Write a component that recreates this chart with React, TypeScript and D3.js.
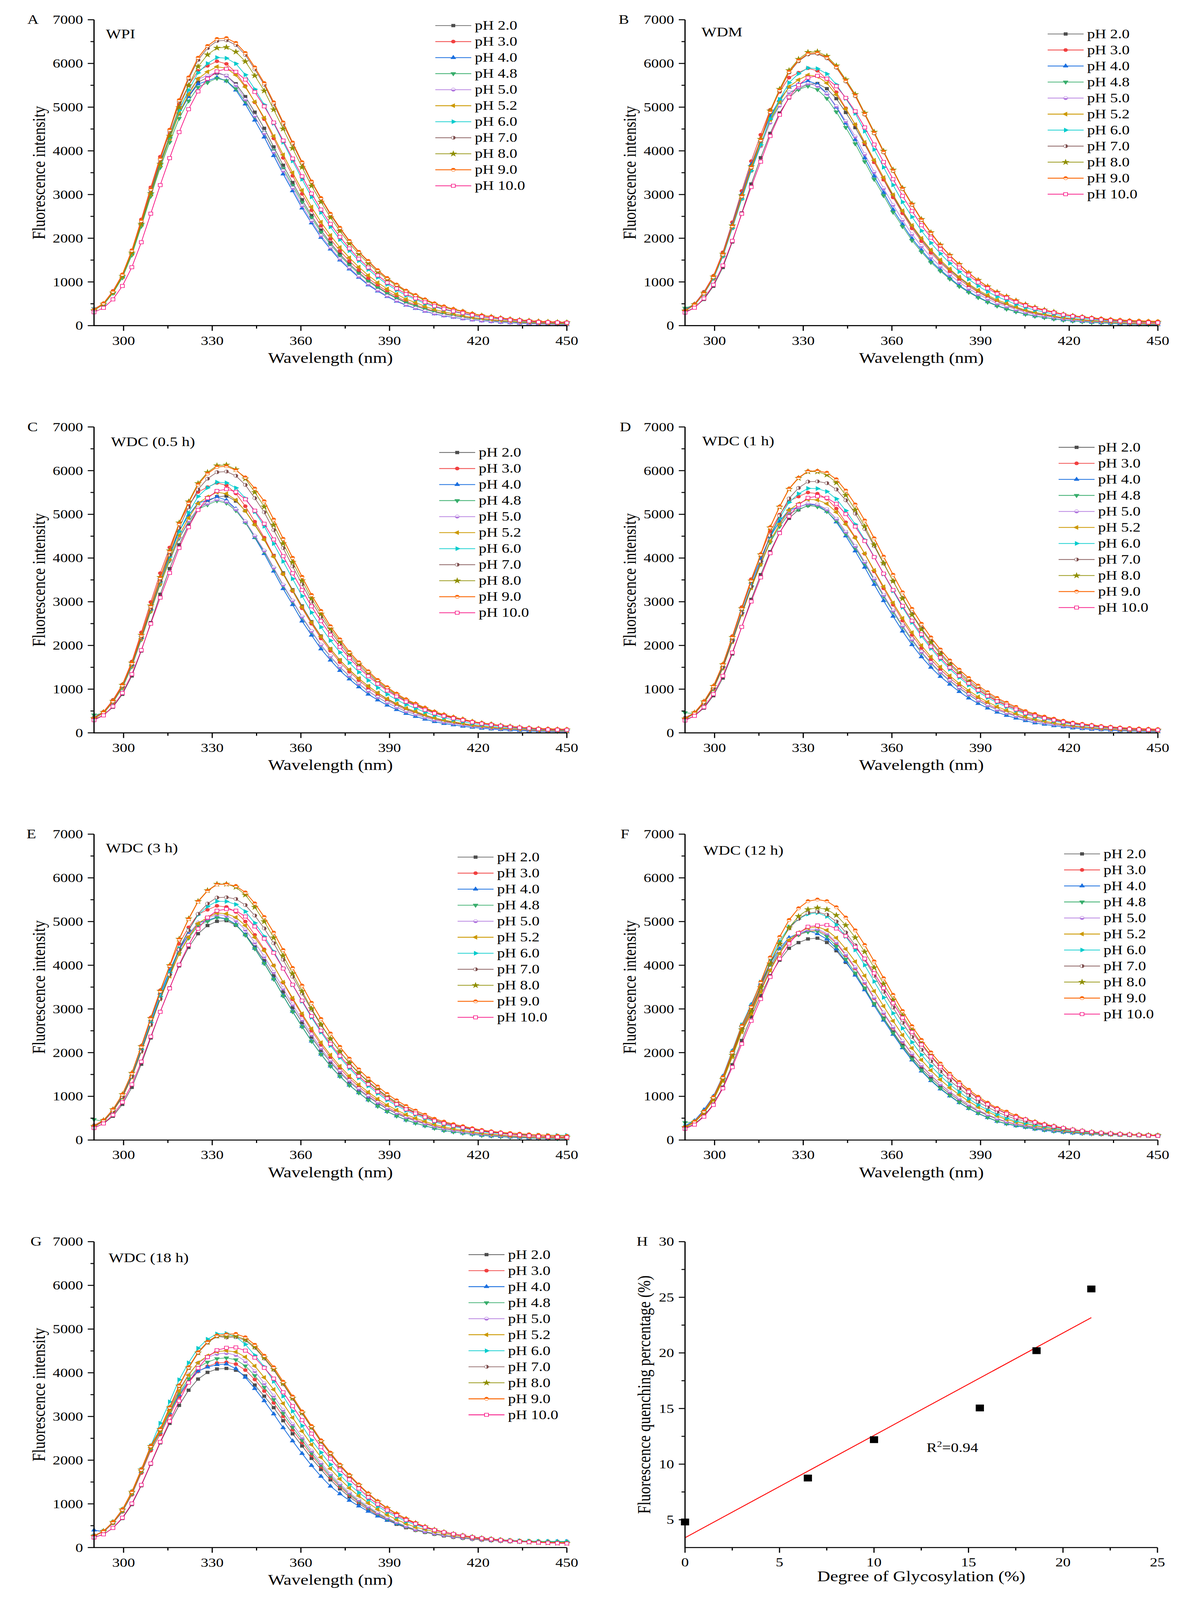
import React from "react";
import * as d3 from "d3";

// excitation scan, one point every 3.2 nm
const wavelengths = [
  290, 293.2, 296.4, 299.6, 302.8, 306, 309.2, 312.4, 315.6, 318.8, 322, 325.2, 328.4, 331.6, 334.8, 338, 341.2,
  344.4, 347.6, 350.8, 354, 357.2, 360.4, 363.6, 366.8, 370, 373.2, 376.4, 379.6, 382.8, 386, 389.2, 392.4, 395.6,
  398.8, 402, 405.2, 408.4, 411.6, 414.8, 418, 421.2, 424.4, 427.6, 430.8, 434, 437.2, 440.4, 443.6, 446.8, 450,
];

const phLabels = ["pH 2.0", "pH 3.0", "pH 4.0", "pH 4.8", "pH 5.0", "pH 5.2", "pH 6.0", "pH 7.0", "pH 8.0", "pH 9.0", "pH 10.0"];

// rows follow phLabels
const wpi = [
  [365, 485, 755, 1115, 1645, 2325, 3025, 3695, 4285, 4845, 5250, 5570, 5680, 5780, 5720, 5535, 5240, 4885, 4515, 4090, 3670, 3275, 2880, 2520, 2185, 1895, 1635, 1415, 1220, 1035, 885, 750, 635, 530, 457, 381, 318, 266, 231, 197, 162, 139, 116, 98, 87, 75, 64, 52, 46, 40, 35],
  [380, 510, 795, 1170, 1725, 2430, 3165, 3865, 4485, 5070, 5495, 5830, 5945, 6050, 5990, 5795, 5485, 5110, 4725, 4285, 3840, 3430, 3015, 2640, 2285, 1985, 1710, 1480, 1275, 1085, 925, 785, 665, 555, 478, 400, 333, 278, 242, 206, 169, 145, 121, 103, 91, 79, 67, 54, 48, 42, 36],
  [370, 490, 765, 1120, 1665, 2350, 3060, 3740, 4315, 4860, 5240, 5530, 5600, 5680, 5600, 5390, 5070, 4700, 4315, 3890, 3470, 3085, 2690, 2350, 2020, 1750, 1500, 1295, 1105, 930, 790, 665, 557, 465, 393, 328, 268, 224, 191, 158, 131, 109, 93, 76, 66, 55, 44, 38, 33, 27, 22],
  [390, 475, 742, 1095, 1614, 2273, 2961, 3616, 4196, 4743, 5141, 5454, 5562, 5660, 5604, 5422, 5131, 4781, 4420, 4009, 3592, 3209, 2821, 2470, 2138, 1857, 1600, 1385, 1193, 1015, 865, 734, 622, 519, 447, 374, 312, 260, 226, 193, 158, 136, 113, 96, 85, 74, 63, 51, 45, 39, 34],
  [378, 500, 781, 1144, 1700, 2399, 3124, 3819, 4406, 4962, 5350, 5646, 5718, 5800, 5718, 5503, 5176, 4799, 4406, 3972, 3543, 3150, 2746, 2399, 2062, 1787, 1532, 1322, 1128, 950, 807, 679, 569, 475, 401, 335, 274, 229, 195, 161, 134, 111, 95, 78, 67, 56, 45, 39, 34, 28, 22],
  [355, 485, 755, 1115, 1645, 2315, 3005, 3675, 4275, 4865, 5295, 5650, 5810, 5925, 5890, 5735, 5460, 5120, 4755, 4335, 3910, 3500, 3095, 2715, 2370, 2065, 1790, 1555, 1340, 1150, 985, 840, 720, 605, 528, 440, 368, 314, 273, 231, 190, 166, 142, 119, 107, 89, 77, 65, 59, 53, 47],
  [350, 490, 755, 1125, 1650, 2320, 3015, 3690, 4305, 4925, 5390, 5785, 6000, 6135, 6120, 5995, 5740, 5410, 5055, 4630, 4195, 3770, 3350, 2945, 2590, 2260, 1970, 1715, 1485, 1285, 1105, 945, 810, 690, 600, 505, 430, 370, 320, 275, 228, 196, 172, 147, 129, 111, 92, 80, 74, 68, 61],
  [355, 505, 775, 1165, 1705, 2380, 3100, 3790, 4445, 5120, 5640, 6080, 6350, 6515, 6530, 6420, 6195, 5865, 5510, 5070, 4615, 4160, 3710, 3280, 2900, 2535, 2220, 1925, 1680, 1465, 1260, 1085, 930, 795, 695, 595, 505, 435, 375, 325, 270, 233, 203, 173, 148, 128, 113, 98, 88, 80, 74],
  [345, 495, 755, 1135, 1665, 2325, 3025, 3700, 4340, 4995, 5500, 5930, 6200, 6355, 6370, 6265, 6045, 5720, 5375, 4945, 4505, 4060, 3625, 3200, 2830, 2475, 2165, 1880, 1640, 1425, 1230, 1060, 910, 775, 675, 580, 490, 420, 365, 318, 265, 228, 200, 170, 147, 127, 110, 96, 85, 78, 72],
  [360, 510, 780, 1170, 1720, 2400, 3120, 3820, 4480, 5160, 5680, 6130, 6400, 6560, 6580, 6470, 6240, 5910, 5550, 5110, 4650, 4190, 3740, 3300, 2920, 2560, 2240, 1940, 1690, 1480, 1270, 1090, 940, 800, 700, 600, 510, 440, 380, 330, 275, 235, 205, 175, 150, 130, 115, 100, 90, 82, 76],
  [306, 406, 601, 907, 1337, 1908, 2562, 3216, 3834, 4429, 4953, 5360, 5649, 5819, 5878, 5808, 5631, 5348, 5018, 4647, 4235, 3823, 3416, 3022, 2656, 2327, 2032, 1767, 1531, 1331, 1149, 984, 848, 724, 624, 536, 448, 383, 330, 289, 241, 206, 177, 159, 130, 118, 100, 82, 77, 71, 65],
];

const wdm = [
  [312, 412, 601, 902, 1331, 1915, 2578, 3241, 3842, 4399, 4866, 5212, 5418, 5523, 5540, 5423, 5195, 4878, 4532, 4148, 3742, 3346, 2968, 2600, 2266, 1966, 1704, 1470, 1270, 1091, 930, 785, 668, 562, 479, 406, 340, 284, 245, 206, 173, 145, 122, 106, 89, 78, 67, 56, 50, 45, 39],
  [370, 497, 774, 1139, 1679, 2366, 3081, 3763, 4367, 4936, 5350, 5676, 5788, 5890, 5832, 5642, 5340, 4975, 4600, 4172, 3739, 3339, 2935, 2570, 2225, 1933, 1665, 1441, 1241, 1056, 901, 764, 647, 540, 465, 389, 324, 271, 236, 201, 165, 141, 118, 100, 89, 77, 65, 53, 47, 41, 35],
  [365, 483, 754, 1104, 1642, 2317, 3017, 3688, 4255, 4792, 5167, 5453, 5522, 5600, 5522, 5315, 4999, 4634, 4255, 3836, 3421, 3042, 2652, 2317, 1992, 1726, 1479, 1277, 1090, 917, 779, 656, 549, 458, 388, 323, 264, 221, 188, 156, 129, 107, 92, 75, 65, 54, 43, 37, 33, 27, 22],
  [400, 473, 738, 1081, 1606, 2267, 2952, 3608, 4163, 4689, 5056, 5335, 5403, 5480, 5403, 5200, 4892, 4535, 4163, 3753, 3348, 2976, 2595, 2267, 1949, 1688, 1447, 1249, 1066, 897, 762, 642, 537, 449, 379, 316, 259, 216, 184, 152, 126, 105, 90, 73, 64, 53, 42, 37, 32, 26, 21],
  [348, 467, 728, 1071, 1580, 2225, 2898, 3539, 4107, 4643, 5032, 5338, 5444, 5540, 5485, 5306, 5023, 4679, 4327, 3924, 3516, 3141, 2761, 2417, 2092, 1818, 1566, 1355, 1167, 994, 847, 719, 609, 508, 438, 366, 305, 255, 222, 189, 155, 133, 111, 94, 83, 72, 61, 49, 44, 38, 33],
  [344, 469, 731, 1079, 1592, 2241, 2909, 3557, 4138, 4709, 5126, 5469, 5624, 5735, 5702, 5551, 5285, 4956, 4603, 4196, 3785, 3388, 2996, 2628, 2294, 1999, 1733, 1505, 1297, 1113, 953, 813, 697, 586, 511, 426, 356, 304, 264, 224, 184, 161, 137, 115, 104, 86, 75, 63, 57, 51, 45],
  [336, 471, 726, 1081, 1586, 2230, 2897, 3546, 4137, 4733, 5180, 5559, 5766, 5896, 5881, 5761, 5516, 5199, 4858, 4449, 4031, 3623, 3219, 2830, 2489, 2172, 1893, 1648, 1427, 1235, 1062, 908, 778, 663, 577, 485, 413, 356, 308, 264, 219, 188, 165, 141, 124, 107, 95, 86, 80, 75, 70],
  [336, 480, 739, 1109, 1626, 2272, 2954, 3613, 4233, 4878, 5369, 5792, 6050, 6205, 6220, 6117, 5901, 5586, 5250, 4828, 4398, 3964, 3537, 3123, 2762, 2416, 2116, 1833, 1600, 1395, 1198, 1033, 887, 759, 662, 567, 480, 413, 357, 310, 258, 225, 200, 176, 156, 140, 127, 115, 107, 100, 95],
  [339, 484, 745, 1118, 1639, 2290, 2978, 3643, 4268, 4918, 5413, 5840, 6099, 6256, 6270, 6167, 5949, 5632, 5293, 4867, 4434, 3997, 3566, 3149, 2785, 2436, 2134, 1848, 1613, 1406, 1208, 1041, 894, 765, 667, 572, 484, 416, 360, 313, 255, 222, 196, 168, 148, 130, 116, 104, 95, 88, 82],
  [337, 482, 741, 1113, 1631, 2279, 2963, 3625, 4247, 4894, 5386, 5811, 6069, 6225, 6240, 6137, 5920, 5604, 5267, 4843, 4412, 3977, 3548, 3133, 2771, 2424, 2123, 1839, 1605, 1399, 1202, 1036, 890, 761, 664, 569, 482, 414, 358, 311, 259, 228, 203, 180, 160, 143, 130, 118, 110, 103, 98],
  [297, 409, 621, 935, 1376, 1939, 2560, 3172, 3752, 4339, 4825, 5228, 5506, 5674, 5717, 5651, 5480, 5211, 4905, 4536, 4144, 3744, 3352, 2969, 2623, 2299, 2013, 1753, 1524, 1330, 1150, 990, 852, 729, 635, 538, 458, 395, 340, 297, 249, 215, 189, 163, 137, 120, 103, 89, 77, 72, 69],
];

const wdcHalfHour = [
  [305, 403, 588, 882, 1302, 1874, 2522, 3170, 3758, 4303, 4761, 5098, 5300, 5403, 5420, 5305, 5082, 4772, 4434, 4058, 3660, 3274, 2903, 2544, 2217, 1923, 1667, 1438, 1242, 1068, 910, 768, 654, 550, 468, 398, 332, 278, 240, 202, 169, 142, 120, 103, 87, 76, 65, 54, 49, 44, 38],
  [359, 482, 752, 1106, 1631, 2298, 2993, 3654, 4241, 4794, 5196, 5512, 5621, 5720, 5663, 5479, 5186, 4831, 4467, 4051, 3631, 3243, 2851, 2496, 2160, 1877, 1617, 1399, 1206, 1026, 875, 742, 629, 525, 452, 378, 315, 263, 229, 195, 160, 137, 114, 97, 86, 75, 63, 51, 45, 40, 34],
  [352, 466, 727, 1065, 1583, 2234, 2909, 3556, 4102, 4620, 4982, 5257, 5324, 5400, 5324, 5124, 4820, 4468, 4102, 3698, 3299, 2933, 2557, 2234, 1920, 1664, 1426, 1231, 1051, 884, 751, 632, 530, 442, 374, 312, 255, 213, 182, 150, 125, 104, 88, 72, 63, 52, 42, 36, 31, 26, 21],
  [410, 448, 698, 1027, 1514, 2133, 2778, 3392, 3936, 4450, 4823, 5117, 5218, 5310, 5257, 5086, 4814, 4485, 4147, 3761, 3370, 3011, 2646, 2317, 2006, 1742, 1501, 1299, 1119, 952, 812, 689, 584, 487, 420, 351, 292, 244, 212, 181, 148, 127, 106, 90, 80, 69, 59, 47, 42, 37, 32],
  [335, 450, 702, 1033, 1522, 2145, 2793, 3411, 3958, 4475, 4850, 5145, 5247, 5340, 5287, 5115, 4841, 4510, 4170, 3782, 3389, 3027, 2661, 2330, 2017, 1752, 1509, 1306, 1125, 958, 816, 693, 587, 490, 422, 353, 294, 245, 214, 182, 149, 128, 107, 91, 80, 70, 59, 48, 42, 37, 32],
  [330, 451, 702, 1036, 1528, 2151, 2792, 3415, 3972, 4520, 4920, 5250, 5399, 5506, 5473, 5329, 5073, 4758, 4418, 4028, 3633, 3252, 2876, 2523, 2202, 1919, 1663, 1445, 1245, 1069, 915, 781, 669, 562, 491, 409, 342, 292, 254, 215, 177, 154, 132, 111, 99, 83, 72, 60, 55, 49, 44],
  [327, 458, 706, 1052, 1543, 2169, 2819, 3450, 4025, 4604, 5039, 5408, 5609, 5736, 5722, 5605, 5366, 5058, 4726, 4329, 3922, 3525, 3132, 2753, 2421, 2113, 1842, 1603, 1388, 1201, 1033, 883, 757, 645, 561, 472, 402, 346, 299, 257, 213, 183, 161, 137, 121, 104, 86, 75, 69, 64, 57],
  [323, 462, 710, 1067, 1563, 2184, 2839, 3474, 4070, 4690, 5162, 5569, 5816, 5965, 5980, 5882, 5674, 5371, 5047, 4641, 4229, 3811, 3400, 3003, 2656, 2323, 2035, 1762, 1539, 1340, 1151, 992, 853, 730, 636, 545, 462, 397, 343, 298, 248, 214, 189, 159, 139, 119, 105, 89, 79, 75, 69],
  [331, 473, 728, 1094, 1602, 2239, 2910, 3561, 4172, 4808, 5291, 5709, 5962, 6115, 6130, 6029, 5816, 5506, 5174, 4758, 4335, 3907, 3485, 3078, 2722, 2381, 2086, 1806, 1577, 1374, 1180, 1017, 875, 748, 652, 559, 473, 407, 351, 306, 254, 219, 194, 163, 143, 122, 107, 91, 81, 76, 71],
  [329, 471, 724, 1088, 1594, 2228, 2896, 3544, 4151, 4784, 5265, 5681, 5933, 6085, 6100, 6010, 5845, 5590, 5300, 4880, 4440, 4005, 3570, 3155, 2790, 2440, 2140, 1850, 1615, 1410, 1210, 1045, 895, 767, 668, 573, 485, 417, 360, 313, 261, 225, 199, 168, 147, 127, 112, 100, 92, 86, 82],
  [290, 399, 605, 912, 1342, 1892, 2497, 3094, 3660, 4232, 4707, 5100, 5371, 5535, 5577, 5513, 5346, 5083, 4785, 4425, 4043, 3652, 3270, 2896, 2558, 2243, 1964, 1710, 1487, 1297, 1122, 965, 831, 711, 619, 525, 446, 385, 332, 290, 243, 209, 184, 159, 134, 117, 100, 86, 75, 70, 67],
];

const wdcOneHour = [
  [294, 388, 567, 850, 1254, 1805, 2429, 3053, 3620, 4144, 4585, 4910, 5104, 5204, 5220, 5110, 4895, 4596, 4270, 3908, 3525, 3153, 2796, 2450, 2135, 1852, 1605, 1385, 1196, 1028, 876, 740, 630, 530, 451, 383, 320, 268, 231, 194, 163, 136, 115, 100, 84, 73, 63, 52, 47, 42, 37],
  [347, 462, 721, 1062, 1568, 2211, 2877, 3515, 4076, 4609, 4994, 5302, 5407, 5500, 5473, 5357, 5132, 4818, 4477, 4098, 3696, 3306, 2932, 2569, 2239, 1942, 1683, 1452, 1254, 1078, 919, 776, 660, 556, 473, 402, 336, 281, 242, 204, 171, 143, 121, 105, 88, 77, 66, 55, 50, 44, 39],
  [341, 451, 707, 1032, 1535, 2169, 2824, 3448, 3982, 4485, 4837, 5104, 5167, 5240, 5203, 5072, 4826, 4506, 4161, 3789, 3396, 3023, 2667, 2327, 2017, 1740, 1499, 1289, 1111, 943, 796, 671, 566, 472, 398, 335, 278, 225, 194, 162, 136, 110, 94, 79, 68, 58, 47, 42, 37, 31, 26],
  [460, 437, 681, 1004, 1482, 2090, 2720, 3323, 3853, 4358, 4722, 5013, 5112, 5200, 5174, 5065, 4852, 4555, 4233, 3874, 3494, 3125, 2772, 2428, 2116, 1836, 1591, 1373, 1186, 1019, 868, 733, 624, 525, 447, 380, 317, 265, 229, 192, 161, 135, 114, 99, 83, 73, 62, 52, 47, 42, 36],
  [331, 441, 688, 1013, 1496, 2111, 2746, 3355, 3890, 4400, 4767, 5061, 5161, 5250, 5224, 5114, 4898, 4599, 4274, 3911, 3528, 3155, 2798, 2452, 2137, 1853, 1607, 1386, 1197, 1029, 877, 740, 630, 530, 452, 383, 320, 268, 231, 194, 163, 137, 116, 100, 84, 74, 63, 53, 47, 42, 37],
  [321, 439, 679, 1006, 1482, 2087, 2712, 3317, 3857, 4387, 4778, 5099, 5243, 5345, 5329, 5243, 5050, 4772, 4457, 4103, 3718, 3344, 2975, 2622, 2295, 2001, 1739, 1509, 1305, 1129, 968, 824, 706, 599, 514, 439, 364, 310, 268, 230, 193, 161, 139, 123, 102, 91, 75, 64, 59, 54, 48],
  [319, 448, 689, 1025, 1506, 2117, 2750, 3366, 3926, 4491, 4917, 5275, 5471, 5594, 5589, 5522, 5354, 5085, 4771, 4418, 4026, 3634, 3248, 2873, 2526, 2212, 1932, 1680, 1456, 1266, 1092, 935, 806, 689, 594, 510, 426, 364, 314, 274, 230, 196, 168, 151, 123, 112, 95, 78, 73, 67, 62],
  [311, 444, 685, 1025, 1503, 2102, 2736, 3347, 3923, 4516, 4971, 5363, 5604, 5748, 5754, 5714, 5570, 5322, 5017, 4666, 4274, 3871, 3473, 3087, 2724, 2396, 2097, 1832, 1590, 1388, 1204, 1037, 893, 766, 662, 570, 478, 415, 357, 311, 265, 225, 196, 173, 144, 127, 109, 92, 81, 75, 69],
  [323, 461, 713, 1066, 1563, 2186, 2845, 3480, 4079, 4696, 5169, 5577, 5828, 5978, 5978, 5906, 5726, 5439, 5103, 4726, 4307, 3888, 3474, 3073, 2701, 2366, 2067, 1797, 1557, 1354, 1168, 1000, 863, 737, 635, 545, 455, 389, 335, 294, 246, 210, 180, 162, 132, 120, 102, 84, 78, 72, 66],
  [324, 462, 714, 1068, 1566, 2190, 2850, 3486, 4086, 4704, 5178, 5586, 5838, 5988, 5994, 5952, 5802, 5544, 5226, 4860, 4452, 4032, 3618, 3216, 2838, 2496, 2184, 1908, 1656, 1446, 1254, 1080, 930, 798, 690, 594, 498, 432, 372, 324, 276, 234, 204, 180, 155, 138, 122, 108, 98, 90, 84],
  [282, 388, 588, 886, 1304, 1837, 2425, 3005, 3556, 4111, 4572, 4954, 5217, 5377, 5415, 5377, 5241, 5008, 4721, 4390, 4022, 3642, 3268, 2905, 2564, 2255, 1973, 1724, 1496, 1306, 1133, 976, 840, 721, 623, 537, 450, 390, 336, 293, 249, 211, 184, 163, 136, 119, 103, 87, 76, 70, 65],
];

const wdcThreeHours = [
  [283, 373, 545, 817, 1206, 1735, 2336, 2936, 3481, 3986, 4409, 4722, 4909, 5005, 5020, 4914, 4707, 4419, 4107, 3759, 3390, 3032, 2689, 2356, 2053, 1781, 1544, 1332, 1150, 989, 843, 711, 605, 510, 434, 368, 308, 257, 222, 187, 156, 131, 111, 96, 81, 71, 61, 50, 45, 40, 35],
  [338, 450, 702, 1034, 1528, 2155, 2803, 3425, 3972, 4492, 4867, 5167, 5269, 5360, 5333, 5221, 5001, 4695, 4363, 3993, 3602, 3221, 2857, 2503, 2182, 1892, 1640, 1415, 1222, 1051, 895, 756, 643, 541, 461, 391, 327, 273, 236, 198, 166, 139, 118, 102, 86, 75, 64, 54, 48, 43, 38],
  [332, 439, 689, 1005, 1494, 2111, 2749, 3356, 3876, 4366, 4707, 4967, 5029, 5100, 5064, 4937, 4697, 4386, 4049, 3687, 3305, 2943, 2596, 2264, 1964, 1693, 1459, 1255, 1081, 918, 775, 653, 551, 459, 388, 326, 270, 219, 189, 158, 133, 107, 92, 77, 66, 56, 46, 41, 36, 31, 26],
  [470, 428, 667, 982, 1451, 2046, 2662, 3253, 3772, 4265, 4622, 4907, 5003, 5090, 5054, 4927, 4688, 4377, 4041, 3680, 3298, 2937, 2591, 2260, 1960, 1690, 1456, 1252, 1079, 916, 774, 652, 550, 458, 387, 326, 270, 219, 188, 158, 132, 107, 92, 76, 66, 56, 46, 41, 36, 31, 25],
  [325, 433, 676, 996, 1471, 2074, 2699, 3297, 3824, 4324, 4685, 4974, 5072, 5160, 5134, 5026, 4814, 4520, 4200, 3844, 3468, 3101, 2750, 2410, 2100, 1821, 1579, 1362, 1176, 1011, 862, 728, 619, 521, 444, 377, 315, 263, 227, 191, 160, 134, 114, 98, 83, 72, 62, 52, 46, 41, 36],
  [312, 426, 660, 978, 1440, 2028, 2636, 3224, 3749, 4264, 4644, 4956, 5096, 5195, 5179, 5096, 4909, 4638, 4332, 3988, 3614, 3250, 2891, 2548, 2231, 1945, 1690, 1466, 1269, 1097, 941, 801, 686, 582, 499, 426, 354, 302, 260, 224, 187, 156, 135, 120, 99, 88, 73, 62, 57, 52, 47],
  [312, 438, 673, 1001, 1471, 2068, 2686, 3287, 3834, 4387, 4803, 5153, 5344, 5465, 5459, 5393, 5229, 4967, 4660, 4316, 3933, 3550, 3173, 2806, 2467, 2161, 1887, 1641, 1422, 1236, 1067, 913, 788, 673, 580, 498, 416, 356, 306, 268, 224, 191, 164, 148, 135, 128, 120, 115, 112, 110, 110],
  [300, 428, 662, 990, 1451, 2029, 2641, 3230, 3786, 4359, 4798, 5176, 5410, 5549, 5554, 5516, 5377, 5137, 4843, 4504, 4126, 3736, 3353, 2980, 2630, 2313, 2024, 1768, 1535, 1340, 1162, 1001, 862, 739, 639, 550, 461, 400, 345, 300, 256, 217, 189, 167, 139, 122, 106, 89, 78, 72, 67],
  [317, 452, 699, 1045, 1532, 2143, 2788, 3410, 3997, 4602, 5066, 5465, 5712, 5858, 5858, 5788, 5612, 5330, 5001, 4631, 4221, 3810, 3405, 3011, 2647, 2319, 2025, 1761, 1526, 1327, 1145, 980, 845, 722, 622, 534, 446, 382, 329, 288, 241, 205, 176, 158, 129, 117, 100, 82, 76, 70, 65],
  [316, 451, 697, 1043, 1529, 2139, 2784, 3405, 3991, 4594, 5057, 5456, 5702, 5848, 5854, 5813, 5667, 5415, 5104, 4747, 4348, 3938, 3534, 3141, 2772, 2438, 2133, 1863, 1617, 1412, 1225, 1055, 908, 779, 674, 580, 486, 422, 363, 316, 270, 229, 199, 176, 160, 145, 130, 118, 108, 100, 95],
  [275, 378, 574, 865, 1272, 1793, 2367, 2933, 3470, 4012, 4462, 4835, 5092, 5248, 5285, 5248, 5115, 4888, 4608, 4285, 3925, 3555, 3190, 2835, 2502, 2201, 1926, 1682, 1460, 1275, 1106, 952, 820, 704, 608, 524, 439, 381, 328, 286, 243, 206, 180, 159, 132, 116, 101, 85, 74, 69, 63],
];

const wdcTwelveHours = [
  [275, 365, 552, 820, 1210, 1723, 2278, 2821, 3306, 3761, 4116, 4389, 4518, 4602, 4620, 4522, 4332, 4067, 3779, 3459, 3120, 2790, 2475, 2168, 1890, 1639, 1421, 1226, 1059, 910, 775, 660, 565, 480, 410, 360, 320, 280, 250, 222, 196, 175, 158, 145, 135, 127, 120, 114, 109, 105, 101],
  [302, 403, 629, 926, 1368, 1930, 2510, 2931, 3435, 3908, 4277, 4560, 4695, 4781, 4800, 4699, 4501, 4226, 3927, 3594, 3242, 2899, 2571, 2253, 1964, 1702, 1476, 1273, 1100, 945, 806, 680, 578, 487, 414, 360, 333, 293, 260, 230, 203, 180, 161, 146, 135, 126, 118, 111, 105, 100, 96],
  [330, 440, 690, 1000, 1460, 2040, 2630, 3100, 3590, 4040, 4380, 4630, 4730, 4790, 4720, 4600, 4376, 4087, 3773, 3436, 3079, 2741, 2418, 2110, 1829, 1578, 1359, 1169, 1008, 855, 722, 608, 513, 428, 370, 325, 290, 250, 222, 198, 178, 160, 147, 136, 128, 122, 117, 113, 110, 108, 106],
  [400, 411, 645, 942, 1401, 1979, 2576, 3004, 3511, 3977, 4333, 4596, 4699, 4763, 4780, 4660, 4434, 4140, 3822, 3481, 3119, 2778, 2450, 2137, 1853, 1598, 1377, 1184, 1021, 867, 732, 616, 520, 433, 375, 335, 300, 260, 232, 206, 185, 167, 153, 142, 134, 128, 123, 119, 116, 114, 112],
  [304, 406, 633, 932, 1377, 1942, 2526, 2949, 3456, 3932, 4304, 4589, 4724, 4811, 4830, 4728, 4529, 4252, 3951, 3616, 3262, 2917, 2587, 2267, 1976, 1713, 1485, 1281, 1107, 951, 811, 684, 582, 490, 420, 370, 335, 295, 262, 232, 205, 182, 163, 148, 137, 128, 120, 113, 107, 102, 98],
  [293, 400, 620, 917, 1352, 1903, 2474, 2889, 3394, 3882, 4270, 4577, 4748, 4853, 4880, 4802, 4626, 4371, 4082, 3758, 3406, 3063, 2724, 2401, 2102, 1833, 1593, 1382, 1196, 1034, 887, 755, 647, 549, 470, 410, 370, 325, 288, 255, 222, 195, 172, 156, 142, 131, 122, 115, 108, 103, 99],
  [312, 426, 660, 978, 1440, 2028, 2636, 3078, 3617, 4137, 4550, 4878, 5060, 5171, 5200, 5117, 4929, 4657, 4349, 4004, 3629, 3263, 2903, 2558, 2240, 1953, 1697, 1472, 1274, 1102, 945, 804, 689, 585, 501, 435, 390, 345, 305, 270, 235, 205, 182, 165, 150, 138, 128, 120, 113, 108, 104],
  [298, 418, 643, 957, 1407, 1977, 2568, 2999, 3535, 4064, 4495, 4843, 5063, 5196, 5220, 5157, 5000, 4749, 4456, 4126, 3760, 3394, 3033, 2683, 2359, 2066, 1804, 1569, 1360, 1182, 1020, 873, 753, 643, 554, 480, 430, 380, 335, 295, 258, 228, 200, 178, 160, 146, 134, 124, 116, 110, 105],
  [288, 409, 633, 947, 1388, 1942, 2527, 2950, 3490, 4035, 4488, 4862, 5120, 5277, 5314, 5277, 5144, 4915, 4633, 4309, 3947, 3575, 3208, 2851, 2516, 2213, 1937, 1692, 1468, 1282, 1112, 958, 825, 708, 612, 530, 465, 408, 355, 312, 268, 234, 206, 182, 162, 148, 136, 126, 118, 111, 106],
  [298, 424, 656, 981, 1438, 2011, 2617, 3055, 3615, 4179, 4648, 5036, 5303, 5466, 5504, 5466, 5328, 5091, 4799, 4463, 4088, 3703, 3323, 2953, 2606, 2292, 2006, 1752, 1521, 1328, 1152, 992, 854, 733, 650, 560, 480, 420, 365, 320, 275, 240, 210, 185, 165, 150, 138, 128, 120, 113, 108],
  [256, 352, 534, 804, 1183, 1668, 2202, 2728, 3228, 3732, 4150, 4497, 4736, 4881, 4910, 4920, 4841, 4669, 4418, 4152, 3818, 3478, 3134, 2799, 2470, 2184, 1909, 1673, 1451, 1264, 1102, 950, 817, 704, 600, 522, 470, 405, 350, 310, 275, 238, 210, 185, 165, 148, 135, 124, 115, 106, 98],
];

const wdcEighteenHours = [
  [231, 305, 445, 667, 985, 1417, 1908, 2398, 2843, 3255, 3601, 3856, 4009, 4087, 4100, 4059, 3928, 3719, 3465, 3202, 2903, 2604, 2325, 2042, 1788, 1550, 1345, 1160, 1005, 865, 734, 627, 533, 455, 395, 348, 305, 268, 236, 213, 192, 173, 160, 149, 141, 135, 130, 126, 123, 121, 119],
  [267, 356, 555, 818, 1208, 1705, 2217, 2589, 3034, 3451, 3778, 4029, 4147, 4223, 4240, 4198, 4062, 3846, 3583, 3311, 3002, 2693, 2404, 2111, 1848, 1603, 1391, 1200, 1039, 895, 759, 649, 552, 467, 400, 355, 312, 275, 242, 218, 195, 175, 161, 150, 141, 135, 130, 126, 123, 121, 119],
  [400, 361, 567, 827, 1231, 1739, 2264, 2640, 3085, 3494, 3807, 4038, 4129, 4185, 4200, 4095, 3896, 3638, 3359, 3058, 2741, 2441, 2153, 1878, 1629, 1404, 1230, 1080, 950, 830, 720, 625, 545, 475, 415, 365, 320, 282, 252, 226, 205, 188, 174, 163, 155, 149, 145, 142, 140, 139, 138],
  [273, 365, 569, 838, 1237, 1745, 2270, 2650, 3105, 3533, 3867, 4124, 4244, 4323, 4340, 4297, 4158, 3936, 3667, 3389, 3073, 2756, 2461, 2161, 1892, 1640, 1424, 1228, 1063, 916, 777, 664, 565, 478, 405, 360, 318, 280, 246, 222, 198, 178, 164, 152, 143, 137, 132, 128, 125, 123, 121],
  [280, 374, 583, 859, 1268, 1789, 2327, 2717, 3184, 3622, 3965, 4228, 4352, 4432, 4450, 4406, 4263, 4036, 3760, 3475, 3151, 2826, 2523, 2216, 1940, 1682, 1460, 1259, 1090, 939, 797, 681, 579, 490, 415, 370, 325, 285, 250, 225, 200, 180, 165, 152, 143, 136, 131, 127, 124, 122, 120],
  [271, 370, 573, 848, 1249, 1759, 2287, 2670, 3137, 3588, 3946, 4230, 4388, 4485, 4505, 4478, 4361, 4154, 3892, 3617, 3297, 2972, 2661, 2354, 2066, 1804, 1569, 1362, 1182, 1019, 875, 749, 640, 546, 465, 415, 365, 318, 280, 250, 224, 200, 183, 168, 156, 147, 140, 135, 131, 128, 125],
  [265, 377, 583, 872, 1279, 1789, 2328, 2847, 3337, 3842, 4229, 4562, 4768, 4890, 4900, 4822, 4650, 4400, 4136, 3802, 3464, 3121, 2788, 2460, 2176, 1901, 1666, 1446, 1259, 1098, 946, 813, 701, 598, 519, 451, 400, 345, 305, 270, 240, 215, 196, 180, 167, 157, 150, 145, 142, 140, 140],
  [263, 375, 580, 867, 1271, 1778, 2314, 2701, 3195, 3694, 4108, 4451, 4688, 4832, 4807, 4817, 4740, 4571, 4325, 4065, 3738, 3405, 3068, 2740, 2418, 2138, 1869, 1638, 1421, 1221, 1044, 891, 763, 650, 557, 473, 404, 350, 307, 271, 238, 212, 191, 171, 155, 140, 128, 118, 110, 103, 98],
  [263, 376, 581, 868, 1273, 1781, 2318, 2706, 3202, 3702, 4117, 4460, 4698, 4841, 4831, 4841, 4764, 4595, 4347, 4086, 3757, 3422, 3084, 2754, 2430, 2149, 1878, 1646, 1429, 1228, 1049, 896, 767, 653, 559, 475, 406, 351, 309, 272, 240, 213, 192, 172, 155, 141, 129, 119, 111, 104, 99],
  [264, 377, 582, 870, 1276, 1785, 2323, 2712, 3208, 3709, 4125, 4469, 4707, 4851, 4880, 4890, 4812, 4641, 4391, 4127, 3795, 3457, 3115, 2782, 2455, 2171, 1897, 1663, 1443, 1240, 1060, 905, 775, 660, 565, 480, 410, 355, 312, 275, 242, 215, 194, 174, 157, 142, 130, 120, 112, 105, 100],
  [229, 302, 449, 682, 1008, 1434, 1924, 2418, 2890, 3357, 3774, 4108, 4360, 4516, 4571, 4580, 4507, 4346, 4113, 3866, 3554, 3238, 2917, 2606, 2299, 2034, 1777, 1557, 1351, 1150, 990, 850, 735, 630, 545, 465, 400, 350, 310, 270, 238, 212, 190, 170, 153, 138, 126, 116, 108, 100, 94],
];

// panel H
const glycosylation = [0, 6.5, 10, 15.6, 18.6, 21.5];
const quenching = [4.8, 8.75, 12.2, 15.05, 20.2, 25.75];

const waveTicks = [300, 330, 360, 390, 420, 450];
const intensityTicks = [0, 1000, 2000, 3000, 4000, 5000, 6000, 7000];
const glycoTicks = [0, 5, 10, 15, 20, 25];
const quenchTicks = [5, 10, 15, 20, 25, 30];

const FONT = '"Liberation Serif", "Times New Roman", Times, serif';
const WIDTH = 3035;
const HEIGHT = 4943;
const PW = 1210;
const PH = 945;

const looks = [
  { color: "#4D4D4D", mark: "square", lw: 1.6 },
  { color: "#F14040", mark: "circle", lw: 1.8 },
  { color: "#1A6FDF", mark: "up", lw: 2.2 },
  { color: "#37AD6B", mark: "down", lw: 1.8 },
  { color: "#B177DE", mark: "halfBottom", lw: 1.7 },
  { color: "#CC9900", mark: "left", lw: 2.2 },
  { color: "#00CBCC", mark: "right", lw: 1.8 },
  { color: "#7D4E4E", mark: "halfRight", lw: 1.6 },
  { color: "#8E8E00", mark: "star", lw: 1.7 },
  { color: "#FB6501", mark: "halfTop", lw: 2.4 },
  { color: "#F7087F", mark: "openSquare", lw: 1.8 },
];

const panels = [
  { letter: "A", name: "WPI", data: wpi, left: 240.6, top: 61, letterX: 70, nameX: 271, nameY: 118, legX: 1215, legY: 79 },
  { letter: "B", name: "WDM", data: wdm, left: 1753, top: 61, letterX: 1583, nameX: 1795, nameY: 112, legX: 2782, legY: 105 },
  { letter: "C", name: "WDC (0.5 h)", data: wdcHalfHour, left: 240.6, top: 1319, letterX: 70, nameX: 284, nameY: 1378, legX: 1225, legY: 1398 },
  { letter: "D", name: "WDC (1 h)", data: wdcOneHour, left: 1753, top: 1319, letterX: 1586, nameX: 1797, nameY: 1376, legX: 2810, legY: 1382 },
  { letter: "E", name: "WDC (3 h)", data: wdcThreeHours, left: 240.6, top: 2577, letterX: 68, nameX: 271, nameY: 2633, legX: 1272, legY: 2648 },
  { letter: "F", name: "WDC (12 h)", data: wdcTwelveHours, left: 1753, top: 2577, letterX: 1588, nameX: 1800, nameY: 2640, legX: 2824, legY: 2638 },
  { letter: "G", name: "WDC (18 h)", data: wdcEighteenHours, left: 240.6, top: 3836, letterX: 78, nameX: 278, nameY: 3899, legX: 1300, legY: 3876 },
];

const MR = 5.6;
const triPath = d3.symbol().type(d3.symbolTriangle).size(92)() as string;
const starPath = d3.symbol().type(d3.symbolStar).size(125)() as string;
const halfArc = (a0: number) =>
  (d3.arc() as any)({ innerRadius: 0, outerRadius: MR, startAngle: a0, endAngle: a0 + Math.PI }) as string;
const halves: Record<string, string> = {
  halfBottom: halfArc(Math.PI / 2),
  halfRight: halfArc(0),
  halfTop: halfArc(-Math.PI / 2),
};

function Marker({ kind, color, x, y }: { kind: string; color: string; x: number; y: number }) {
  const t = `translate(${x},${y})`;
  switch (kind) {
    case "square":
      return <rect x={x - 5} y={y - 5} width={10} height={10} fill={color} />;
    case "openSquare":
      return <rect x={x - 5} y={y - 5} width={10} height={10} fill="#fff" stroke={color} strokeWidth={1.6} />;
    case "circle":
      return <circle cx={x} cy={y} r={MR} fill={color} />;
    case "up":
      return <path d={triPath} transform={t} fill={color} />;
    case "down":
      return <path d={triPath} transform={`${t} rotate(180)`} fill={color} />;
    case "left":
      return <path d={triPath} transform={`${t} rotate(-90)`} fill={color} />;
    case "right":
      return <path d={triPath} transform={`${t} rotate(90)`} fill={color} />;
    case "star":
      return <path d={starPath} transform={t} fill={color} />;
    default:
      return (
        <g transform={t}>
          <circle r={MR - 0.5} fill="#fff" stroke={color} strokeWidth={1.1} />
          <path d={halves[kind]} fill={color} />
        </g>
      );
  }
}

function CurvePanel({ p }: { p: (typeof panels)[number] }) {
  const x = d3.scaleLinear().domain([290, 450]).range([p.left, p.left + PW]);
  const y = d3.scaleLinear().domain([0, 7000]).range([p.top + PH, p.top]);
  const bottom = p.top + PH;
  const line = d3
    .line<number>()
    .x((_, i) => x(wavelengths[i]))
    .y((d) => y(d));

  return (
    <g>
      {/* curves */}
      {p.data.map((series, s) => {
        const pts = series.slice(0, wavelengths.length);
        const look = looks[s];
        return (
          <g key={s}>
            <path d={line(pts) ?? ""} fill="none" stroke={look.color} strokeWidth={look.lw} strokeLinejoin="round" />
            {pts.map((v, i) => (
              <Marker key={i} kind={look.mark} color={look.color} x={x(wavelengths[i])} y={y(v)} />
            ))}
          </g>
        );
      })}

      {/* axes */}
      <line x1={p.left} x2={p.left} y1={bottom + 1.5} y2={p.top} stroke="#000" strokeWidth={3.2} />
      <line x1={p.left} x2={p.left + PW} y1={bottom} y2={bottom} stroke="#000" strokeWidth={3.2} />
      {waveTicks.map((t) => (
        <g key={t}>
          <line x1={x(t)} x2={x(t)} y1={bottom} y2={bottom + 16} stroke="#000" strokeWidth={3} />
          <text x={x(t)} y={bottom + 59} fontSize={39} textAnchor="middle">
            {t}
          </text>
        </g>
      ))}
      {d3.range(315, 450, 30).map((t) => (
        <line key={t} x1={x(t)} x2={x(t)} y1={bottom} y2={bottom + 9} stroke="#000" strokeWidth={3} />
      ))}
      {intensityTicks.map((t) => (
        <g key={t}>
          <line x1={p.left - 16} x2={p.left} y1={y(t)} y2={y(t)} stroke="#000" strokeWidth={3} />
          <text x={p.left - 28} y={y(t) + 13} fontSize={39} textAnchor="end">
            {t}
          </text>
        </g>
      ))}
      {d3.range(500, 7000, 1000).map((t) => (
        <line key={t} x1={p.left - 9} x2={p.left} y1={y(t)} y2={y(t)} stroke="#000" strokeWidth={3} />
      ))}
      <text x={p.left + PW / 2} y={bottom + 115} fontSize={46} textAnchor="middle">
        Wavelength (nm)
      </text>
      <text
        transform={`translate(${p.left - 126},${p.top + PH / 2}) rotate(-90)`}
        fontSize={46}
        textAnchor="middle"
      >
        Fluorescence intensity
      </text>

      <text x={p.letterX} y={p.top + 13} fontSize={40}>
        {p.letter}
      </text>
      <text x={p.nameX} y={p.nameY} fontSize={41}>
        {p.name}
      </text>

      {/* legend */}
      {phLabels.map((label, s) => {
        const ly = p.legY + s * 49.5;
        const look = looks[s];
        return (
          <g key={label}>
            <line x1={p.legX - 101} x2={p.legX - 9} y1={ly} y2={ly} stroke={look.color} strokeWidth={look.lw + 0.4} />
            <Marker kind={look.mark} color={look.color} x={p.legX - 55} y={ly} />
            <text x={p.legX} y={ly + 13} fontSize={40}>
              {label}
            </text>
          </g>
        );
      })}
    </g>
  );
}

function QuenchingPanel() {
  const left = 1753;
  const top = 3836;
  const bottom = top + PH;
  const x = d3.scaleLinear().domain([0, 25]).range([left, left + 1209]);
  const y = d3.scaleLinear().domain([2.5, 30]).range([bottom, top]);

  // least-squares fit through the six samples
  const mx = d3.mean(glycosylation) ?? 0;
  const my = d3.mean(quenching) ?? 0;
  const sxy = d3.sum(glycosylation, (g, i) => (g - mx) * (quenching[i] - my));
  const sxx = d3.sum(glycosylation, (g) => (g - mx) ** 2);
  const slope = sxy / sxx;
  const intercept = my - slope * mx;
  const x0 = d3.min(glycosylation) ?? 0;
  const x1 = d3.max(glycosylation) ?? 0;

  return (
    <g>
      <line
        x1={x(x0)}
        y1={y(intercept + slope * x0)}
        x2={x(x1)}
        y2={y(intercept + slope * x1)}
        stroke="#FF0000"
        strokeWidth={2.6}
      />
      {glycosylation.map((g, i) => (
        <rect key={i} x={x(g) - 10.5} y={y(quenching[i]) - 10.5} width={21} height={21} fill="#000" />
      ))}

      <line x1={left} x2={left} y1={bottom + 1.5} y2={top} stroke="#000" strokeWidth={3.2} />
      <line x1={left} x2={left + 1209} y1={bottom} y2={bottom} stroke="#000" strokeWidth={3.2} />
      {glycoTicks.map((t) => (
        <g key={t}>
          <line x1={x(t)} x2={x(t)} y1={bottom} y2={bottom + 16} stroke="#000" strokeWidth={3} />
          <text x={x(t)} y={bottom + 58} fontSize={39} textAnchor="middle">
            {t}
          </text>
        </g>
      ))}
      {d3.range(2.5, 25, 5).map((t) => (
        <line key={t} x1={x(t)} x2={x(t)} y1={bottom} y2={bottom + 9} stroke="#000" strokeWidth={3} />
      ))}
      {quenchTicks.map((t) => (
        <g key={t}>
          <line x1={left - 16} x2={left} y1={y(t)} y2={y(t)} stroke="#000" strokeWidth={3} />
          <text x={left - 28} y={y(t) + 13} fontSize={39} textAnchor="end">
            {t}
          </text>
        </g>
      ))}
      {d3.range(7.5, 30, 5).map((t) => (
        <line key={t} x1={left - 9} x2={left} y1={y(t)} y2={y(t)} stroke="#000" strokeWidth={3} />
      ))}

      <text x={left + 1209 / 2} y={bottom + 104} fontSize={46} textAnchor="middle">
        Degree of Glycosylation (%)
      </text>
      <text transform={`translate(${left - 89},${top + PH / 2}) rotate(-90)`} fontSize={46} textAnchor="middle">
        Fluorescence quenching percentage (%)
      </text>
      <text x={1629} y={top + 13} fontSize={40}>
        H
      </text>
      <text x={x(12.78)} y={y(11.1)} fontSize={40}>
        R
        <tspan dy={-16} fontSize={26}>
          2
        </tspan>
        <tspan dy={16}>=0.94</tspan>
      </text>
    </g>
  );
}

export default function App() {
  // the drawing is laid out in 3035 x 4943 units and stretched to the page viewport
  return (
    <>
      <style>{"html,body{margin:0;padding:0;overflow:hidden;background:#fff}"}</style>
      <svg
        viewBox={`0 0 ${WIDTH} ${HEIGHT}`}
        preserveAspectRatio="none"
        style={{ display: "block", width: "100vw", height: "100vh" }}
        fontFamily={FONT}
      >
        <rect width={WIDTH} height={HEIGHT} fill="#fff" />
        {panels.map((p) => (
          <CurvePanel key={p.letter} p={p} />
        ))}
        <QuenchingPanel />
      </svg>
    </>
  );
}
